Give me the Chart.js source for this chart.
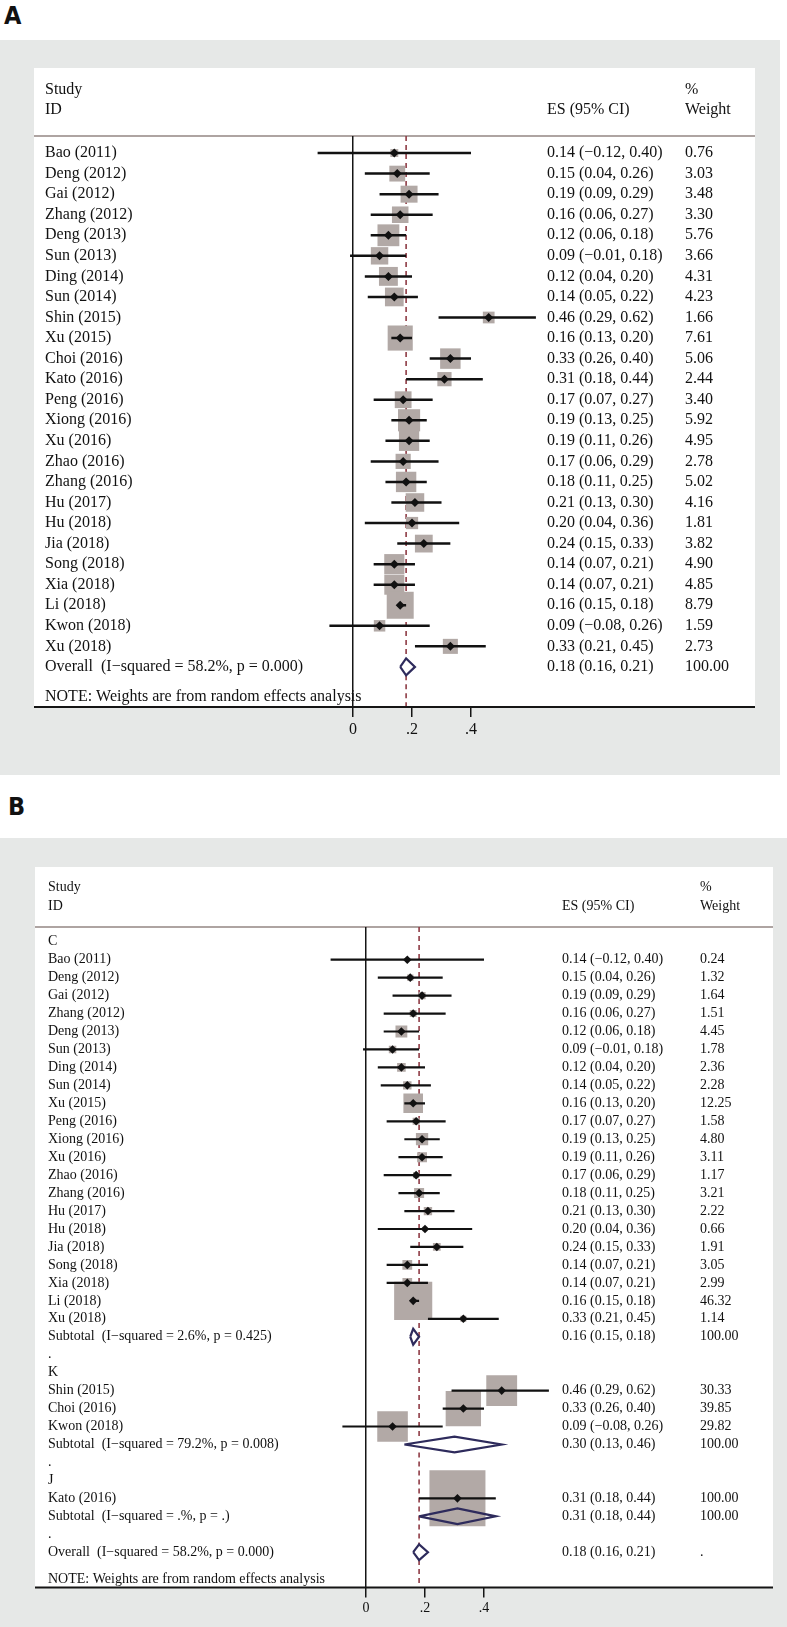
<!DOCTYPE html>
<html>
<head>
<meta charset="utf-8">
<script src="https://cdn.jsdelivr.net/npm/chart.js@4.4.1/dist/chart.umd.min.js"></script>
<style>
  body { margin: 0; background: #fff; width: 787px; height: 1627px; position: relative; overflow: hidden; }
  .lbl { position: absolute; font: bold 25px "Liberation Sans Narrow", "DejaVu Sans Condensed", sans-serif; color: #111; }
  .panel { position: absolute; left: 0; background: #e6e8e7; }
  canvas { display: block; }
</style>
</head>
<body>
<div class="lbl" style="left:4px;top:1px">A</div>
<div class="panel" style="top:40px;width:780px;height:735px"><canvas id="chartA" width="780" height="735"></canvas></div>
<div class="lbl" style="left:8px;top:792px">B</div>
<div class="panel" style="top:838px;width:787px;height:789px"><canvas id="chartB" width="787" height="789"></canvas></div>

<script>
// study level estimates (same studies in both panels)
const studyNames = ["Bao (2011)", "Deng (2012)", "Gai (2012)", "Zhang (2012)", "Deng (2013)", "Sun (2013)",
  "Ding (2014)", "Sun (2014)", "Shin (2015)", "Xu (2015)", "Choi (2016)", "Kato (2016)", "Peng (2016)",
  "Xiong (2016)", "Xu (2016)", "Zhao (2016)", "Zhang (2016)", "Hu (2017)", "Hu (2018)", "Jia (2018)",
  "Song (2018)", "Xia (2018)", "Li (2018)", "Kwon (2018)", "Xu (2018)"];
const studyES = [0.14, 0.15, 0.19, 0.16, 0.12, 0.09, 0.12, 0.14, 0.46, 0.16, 0.33, 0.31, 0.17,
  0.19, 0.19, 0.17, 0.18, 0.21, 0.20, 0.24, 0.14, 0.14, 0.16, 0.09, 0.33];
const studyLo = [-0.12, 0.04, 0.09, 0.06, 0.06, -0.01, 0.04, 0.05, 0.29, 0.13, 0.26, 0.18, 0.07,
  0.13, 0.11, 0.06, 0.11, 0.13, 0.04, 0.15, 0.07, 0.07, 0.15, -0.08, 0.21];
const studyHi = [0.40, 0.26, 0.29, 0.27, 0.18, 0.18, 0.20, 0.22, 0.62, 0.20, 0.40, 0.44, 0.27,
  0.25, 0.26, 0.29, 0.25, 0.30, 0.36, 0.33, 0.21, 0.21, 0.18, 0.26, 0.45];

// panel A weights (%)
const weightsA = [0.76, 3.03, 3.48, 3.30, 5.76, 3.66, 4.31, 4.23, 1.66, 7.61, 5.06, 2.44, 3.40,
  5.92, 4.95, 2.78, 5.02, 4.16, 1.81, 3.82, 4.90, 4.85, 8.79, 1.59, 2.73];

// panel B subgroups
const groupNames = ["C", "K", "J"];
const groupC = ["Bao (2011)", "Deng (2012)", "Gai (2012)", "Zhang (2012)", "Deng (2013)", "Sun (2013)",
  "Ding (2014)", "Sun (2014)", "Xu (2015)", "Peng (2016)", "Xiong (2016)", "Xu (2016)", "Zhao (2016)",
  "Zhang (2016)", "Hu (2017)", "Hu (2018)", "Jia (2018)", "Song (2018)", "Xia (2018)", "Li (2018)", "Xu (2018)"];
const weightsC = [0.24, 1.32, 1.64, 1.51, 4.45, 1.78, 2.36, 2.28, 12.25, 1.58, 4.80, 3.11, 1.17,
  3.21, 2.22, 0.66, 1.91, 3.05, 2.99, 46.32, 1.14];
const groupK = ["Shin (2015)", "Choi (2016)", "Kwon (2018)"];
const weightsK = [30.33, 39.85, 29.82];
const groupJ = ["Kato (2016)"];
const weightsJ = [100.00];

const subtotalLabels = ["Subtotal  (I\u2212squared = 2.6%, p = 0.425)",
  "Subtotal  (I\u2212squared = 79.2%, p = 0.008)",
  "Subtotal  (I\u2212squared = .%, p = .)"];
const subtotalES = [0.16, 0.30, 0.31];
const subtotalLo = [0.15, 0.13, 0.18];
const subtotalHi = [0.18, 0.46, 0.44];

const overallLabel = "Overall  (I\u2212squared = 58.2%, p = 0.000)";
const overallES = 0.18, overallLo = 0.16, overallHi = 0.21;

const xTickValues = [0, 0.2, 0.4];
const xTickLabels = ["0", ".2", ".4"];
const noteText = "NOTE: Weights are from random effects analysis";

function fmt(v) {
  return v < 0 ? "\u2212" + Math.abs(v).toFixed(2) : v.toFixed(2);
}
function ciText(es, lo, hi) {
  return fmt(es) + " (" + fmt(lo) + ", " + fmt(hi) + ")";
}
function studyRow(name, w) {
  const k = studyNames.indexOf(name);
  return { kind: "study", label: name, es: studyES[k], lo: studyLo[k], hi: studyHi[k], w: w,
    esText: ciText(studyES[k], studyLo[k], studyHi[k]), wText: w.toFixed(2) };
}
function sumRow(label, es, lo, hi, wText) {
  return { kind: "summary", label: label, es: es, lo: lo, hi: hi, esText: ciText(es, lo, hi), wText: wText };
}
function textRow(label) {
  return { kind: "text", label: label, esText: "", wText: "" };
}

const rowsA = studyNames.map((n, i) => studyRow(n, weightsA[i]));
rowsA.push(sumRow(overallLabel, overallES, overallLo, overallHi, "100.00"));

const rowsB = [];
[[groupC, weightsC], [groupK, weightsK], [groupJ, weightsJ]].forEach(([names, ws], g) => {
  rowsB.push(textRow(groupNames[g]));
  names.forEach((n, i) => rowsB.push(studyRow(n, ws[i])));
  rowsB.push(sumRow(subtotalLabels[g], subtotalES[g], subtotalLo[g], subtotalHi[g], "100.00"));
  rowsB.push(textRow("."));
});
rowsB.push(sumRow(overallLabel, overallES, overallLo, overallHi, "."));

const serif = '"Liberation Serif", "Times New Roman", serif';

const framePlugin = {
  id: "frame",
  beforeDraw(chart, args, o) {
    const { ctx, chartArea } = chart;
    ctx.save();
    ctx.fillStyle = "#ffffff";
    ctx.fillRect(o.left, o.top, o.right - o.left, chartArea.bottom - o.top);
    ctx.strokeStyle = "#aea4a2";
    ctx.lineWidth = 2;
    ctx.beginPath();
    ctx.moveTo(o.left, chartArea.top);
    ctx.lineTo(o.right, chartArea.top);
    ctx.stroke();
    ctx.restore();
  },
  afterDraw(chart, args, o) {
    const { ctx, chartArea, scales } = chart;
    ctx.save();
    ctx.strokeStyle = "#151515";
    ctx.lineWidth = 2;
    ctx.beginPath();
    ctx.moveTo(o.left, chartArea.bottom);
    ctx.lineTo(o.right, chartArea.bottom);
    ctx.stroke();
    ctx.fillStyle = "#111";
    ctx.font = o.fontSize + "px " + serif;
    ctx.textBaseline = "middle";
    ctx.textAlign = "left";
    const y1 = chartArea.top - o.head1, y2 = chartArea.top - o.head2;
    ctx.fillText("Study", scales.y.left, y1);
    ctx.fillText("ID", scales.y.left, y2);
    ctx.fillText("ES (95% CI)", scales.yES.left, y2);
    ctx.fillText("%", scales.yW.left, y1);
    ctx.fillText("Weight", scales.yW.left, y2);
    ctx.fillText(noteText, scales.y.left, chartArea.bottom - o.noteOff);
    ctx.restore();
  }
};

function makeForest(id, rows, cfg) {
  const font = { family: serif, size: cfg.fontSize };
  const studies = [];
  const sums = [];
  rows.forEach((r, i) => {
    if (r.kind === "study") studies.push(Object.assign({ i: i }, r));
    if (r.kind === "summary") sums.push(Object.assign({ i: i }, r));
  });

  const ciData = [];
  studies.forEach(r => { ciData.push({ x: r.lo, y: r.i }, { x: r.hi, y: r.i }, { x: null, y: null }); });
  const pointData = studies.map(r => ({ x: r.es, y: r.i }));
  const boxRadius = studies.map(r => cfg.boxK * Math.sqrt(r.w) / Math.SQRT2);

  const h = cfg.diamondH;
  const diamondData = [];
  sums.forEach(r => {
    diamondData.push({ x: r.lo, y: r.i }, { x: r.es, y: r.i - h }, { x: r.hi, y: r.i },
      { x: r.es, y: r.i + h }, { x: r.lo, y: r.i }, { x: null, y: null });
  });

  // overall reference line, broken where a diamond straddles it
  const refData = [{ x: overallES, y: cfg.yMin }];
  sums.forEach(r => {
    if (r.lo < overallES && r.hi > overallES) {
      refData.push({ x: overallES, y: r.i - h }, { x: null, y: null }, { x: overallES, y: r.i + h });
    }
  });
  refData.push({ x: overallES, y: cfg.yMax });

  const rowAxis = (pos, width, key, align) => ({
    type: "linear", position: pos, min: cfg.yMin, max: cfg.yMax, reverse: true,
    afterBuildTicks: s => { s.ticks = rows.map((r, i) => ({ value: i })); },
    afterFit: s => { s.width = width; },
    ticks: { callback: (v, i) => rows[i] ? rows[i][key] : "", crossAlign: align, padding: 0,
      autoSkip: false, font: font, color: "#111" },
    grid: { display: false, drawTicks: false },
    border: { display: false }
  });

  return new Chart(document.getElementById(id), {
    type: "scatter",
    data: {
      datasets: [
        { type: "line", data: diamondData, borderColor: "#2e2b5c", borderWidth: 2.2, pointRadius: 0,
          spanGaps: false, tension: 0, fill: false },
        { type: "scatter", data: pointData, pointStyle: "rectRot", pointRadius: cfg.pointR,
          backgroundColor: "#111", borderWidth: 0 },
        { type: "line", data: ciData, borderColor: "#111", borderWidth: cfg.ciW, pointRadius: 0,
          spanGaps: false, tension: 0, fill: false },
        { type: "scatter", data: pointData, pointStyle: "rect", pointRadius: boxRadius,
          backgroundColor: "#b2a9a6", borderWidth: 0 },
        { type: "line", data: refData, borderColor: "#8e3b45", borderWidth: 1.6, borderDash: [5, 4],
          pointRadius: 0, spanGaps: false, tension: 0, fill: false }
      ]
    },
    options: {
      responsive: false,
      animation: false,
      events: [],
      layout: { padding: cfg.padding },
      plugins: {
        legend: { display: false },
        tooltip: { enabled: false },
        frame: cfg.frame
      },
      scales: {
        x: {
          type: "linear", min: cfg.xMin, max: cfg.xMax,
          afterBuildTicks: s => { s.ticks = xTickValues.map(v => ({ value: v })); },
          afterFit: s => { s.height = cfg.xAxisH; },
          ticks: { callback: (v, i) => xTickLabels[i], font: font, color: "#111", padding: cfg.tickPad,
            autoSkip: false, maxRotation: 0 },
          grid: {
            color: c => (c.tick && c.tick.value === 0) ? "#151515" : "rgba(0,0,0,0)",
            lineWidth: 1.5, tickColor: "#151515", tickWidth: 1.5, tickLength: 10
          },
          border: { display: false }
        },
        y: rowAxis("left", cfg.leftW, "label", "far"),
        yES: rowAxis("right", cfg.esW, "esText", "near"),
        yW: rowAxis("right", cfg.wW, "wText", "near")
      }
    },
    plugins: [framePlugin]
  });
}

// panel A: zero at x=353, 295 px per unit, rows 20.56 px apart
makeForest("chartA", rowsA, {
  fontSize: 16, boxK: 9.1, pointR: 4.5, ciW: 2.5, diamondH: 0.41,
  xMin: -0.1458, xMax: 0.6576, yMin: -0.83, yMax: 26.95,
  padding: { left: 45, right: 25, top: 96, bottom: 0 },
  leftW: 265, esW: 138, wW: 70, xAxisH: 68, tickPad: 3,
  frame: { left: 34, top: 28, right: 755, fontSize: 16, head1: 46, head2: 26, noteOff: 10 }
});

// panel B: zero at x=366, 295 px per unit, rows 18.24 px apart
makeForest("chartB", rowsB, {
  fontSize: 14, boxK: 5.6, pointR: 4.3, ciW: 2.2, diamondH: 0.44,
  xMin: -0.1559, xMax: 0.6644, yMin: -0.82, yMax: 35.96,
  padding: { left: 48, right: 14, top: 89, bottom: 0 },
  leftW: 272, esW: 138, wW: 73, xAxisH: 29, tickPad: 3,
  frame: { left: 35, top: 29, right: 773, fontSize: 14, head1: 40, head2: 21, noteOff: 8 }
});
</script>
</body>
</html>
